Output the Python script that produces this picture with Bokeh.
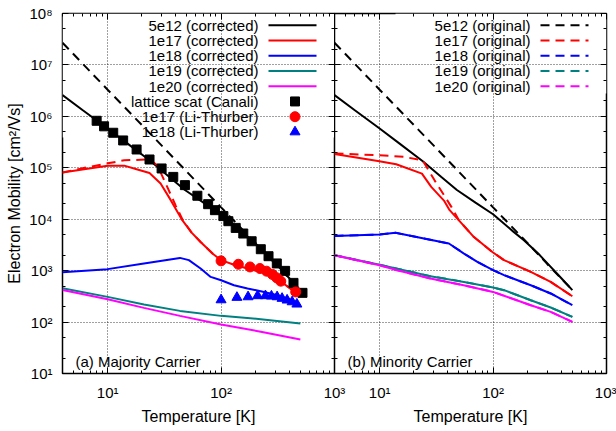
from bokeh.plotting import figure
from bokeh.models import (FixedTicker, CustomJSTickFormatter, LogAxis, Range1d,
                          LinearScale)
from bokeh.layouts import row
from bokeh.core.properties import value
from bokeh.embed import file_html
from bokeh.resources import INLINE

# ---------------- data ----------------
# lattice-limited (5e12) curves, same in both panels
T_5e12_corr = [4, 6, 10, 15, 24, 35, 48, 70, 100, 150, 187, 250, 300, 400, 500]
mu_5e12_corr = [2.6e6, 1.33e6, 5.8e5, 2.95e5, 1.34e5, 6.6e4, 3.7e4, 2.1e4, 1.25e4,
                5.8e3, 3.9e3, 2.15e3, 1.4e3, 7.1e2, 4.17e2]
T_5e12_orig = [4, 10, 30, 100, 200, 300, 500]
mu_5e12_orig = [2.7e7, 3.3e6, 2.7e5, 1.7e4, 3.5e3, 1.35e3, 4.2e2]

# (a) majority carrier
T_a_1e17_corr = [4, 6, 10, 14, 18, 23.4, 29.3, 36, 45.5, 55, 66, 85, 100, 130, 171, 256, 336, 440, 500]
mu_a_1e17_corr = [8.1e4, 9.3e4, 1.09e5, 1.1e5, 9.4e4, 7.9e4, 4.95e4, 2.35e4, 9.6e3, 5.5e3,
                  3.6e3, 2.1e3, 1.6e3, 1.3e3, 1.1e3, 8.8e2, 6.1e2, 4.0e2, 3.4e2]
T_a_1e17_orig = [4, 6, 10, 14, 23.4, 27.4, 33.6, 40, 46, 55, 66, 85, 100, 130, 171, 256, 336, 440, 500]
mu_a_1e17_orig = [8.1e4, 9.8e4, 1.22e5, 1.4e5, 1.45e5, 1.12e5, 4.2e4, 1.8e4, 9.6e3, 5.5e3,
                  3.6e3, 2.1e3, 1.6e3, 1.3e3, 1.1e3, 8.8e2, 6.1e2, 4.0e2, 3.4e2]
T_a_1e18 = [4, 10, 20.9, 43.4, 52, 66, 81, 100, 130, 171, 224, 314, 440, 500]
mu_a_1e18 = [930, 1070, 1380, 1770, 1600, 1100, 755, 650, 521, 450, 398, 333, 250, 213]
T_a_1e19 = [4, 10, 20.9, 43.4, 100, 224, 500]
mu_a_1e19 = [455, 309, 220, 165, 132, 114, 94]
T_a_1e20 = [4, 10, 20.9, 43.4, 100, 224, 500]
mu_a_1e20 = [420, 279, 189, 132, 90, 65, 46]

# measured / reference points
T_canali = [8.0, 9.3, 11.2, 13.7, 18.0, 23.4, 29.9, 37.9, 48.0, 61.8, 76.9, 88.3, 104.8,
            116, 134.6, 157, 186, 224, 262, 310, 367, 435, 522]
mu_canali = [8.2e5, 6.4e5, 4.8e5, 3.4e5, 2.27e5, 1.45e5, 9.7e4, 6.65e4, 4.6e4, 2.86e4,
             1.96e4, 1.5e4, 1.15e4, 9150, 6780, 5270, 3730, 2610, 1910, 1380, 990, 578, 370]
T_lt_1e17 = [100, 142, 180, 220, 252, 284, 310, 336, 455]
mu_lt_1e17 = [1550, 1330, 1180, 1100, 975, 841, 723, 624, 386]
T_lt_1e18 = [100, 138, 173, 210, 246, 278, 312, 345, 382, 423, 466]
mu_lt_1e18 = [270, 301, 309, 324, 324, 319, 309, 288, 267, 247, 223]

# (b) minority carrier
T_b_1e17_corr = [4, 9.65, 14, 23.6, 28.5, 36.9, 41.4, 50, 67.8, 98.6, 125, 215, 322, 500]
mu_b_1e17_corr = [1.85e5, 1.36e5, 1.17e5, 7.7e4, 4.25e4, 2.3e4, 1.5e4, 9.5e3, 4.5e3,
                  2.3e3, 1.6e3, 946, 603, 318]
T_b_1e17_orig = [4, 9.65, 16.3, 23.9, 30.5, 42.9, 50, 67.8, 98.6, 125, 215, 322, 500]
mu_b_1e17_orig = [1.9e5, 1.76e5, 1.63e5, 1.4e5, 5.7e4, 1.74e4, 9.5e3, 4.5e3, 2.3e3,
                  1.6e3, 946, 603, 318]
T_b_1e18 = [4, 10, 13.8, 24.6, 40.8, 55.4, 72.7, 100, 125, 215, 322, 500]
mu_b_1e18 = [4740, 5050, 5430, 4220, 3370, 2150, 1480, 1020, 817, 521, 360, 213]
T_b_1e19 = [4, 10, 14.3, 28, 55.4, 100, 125, 215, 322, 500]
mu_b_1e19 = [2000, 1300, 1090, 780, 604, 470, 417, 266, 192, 126]
T_b_1e20 = [4, 10, 14.3, 28, 55, 100, 215, 322, 500]
mu_b_1e20 = [2000, 1270, 1020, 703, 521, 386, 213, 158, 101]

x_major = [10, 100, 1000]
x_minor = [m * 10 ** e for e in range(0, 3) for m in range(2, 10) if 4 <= m * 10 ** e <= 1000]
y_major = [10 ** e for e in range(1, 9)]
y_minor = [m * 10 ** e for e in range(1, 8) for m in (2, 5)]

# ---------------- styling ----------------
FONT = "Liberation Sans"
FS = "15px"
FS_TITLE = "16px"
FW, FH = 272, 360
OVERLAP = 14
BLACK, RED, BLUE, TEAL, MAGENTA = "#000000", "#ff0000", "#0000ff", "#008080", "#ff00ff"
DASH = "9 6"

FMT = """
const s = {"0":"\u2070","1":"\u00b9","2":"\u00b2","3":"\u00b3","4":"\u2074","5":"\u2075",
           "6":"\u2076","7":"\u2077","8":"\u2078","9":"\u2079","-":"\u207b"};
const e = Math.round(Math.log10(tick));
return "10" + String(e).split("").map(c => s[c]).join("");
"""


def style_axis(ax, is_x, labels):
    ax.ticker = FixedTicker(ticks=x_major if is_x else y_major,
                            minor_ticks=x_minor if is_x else y_minor)
    ax.axis_line_color = None
    ax.major_tick_in = 6
    ax.major_tick_out = 0
    ax.minor_tick_in = 3
    ax.minor_tick_out = 0
    ax.major_tick_line_color = "black"
    ax.minor_tick_line_color = "black"
    if labels:
        ax.formatter = CustomJSTickFormatter(code=FMT)
        ax.major_label_text_font = FONT
        ax.major_label_text_font_size = FS
        ax.major_label_text_color = "black"
        ax.major_label_standoff = 10
    else:
        ax.formatter = CustomJSTickFormatter(code="return '';")
        ax.major_label_text_font_size = "0px"
        ax.major_label_standoff = 0
    ax.axis_label_text_font = FONT
    ax.axis_label_text_font_size = FS_TITLE
    ax.axis_label_text_font_style = "normal"
    ax.axis_label_text_color = "black"


def make_fig(left_border, right_border, ylabels):
    p = figure(x_axis_type="log", y_axis_type="log",
               x_range=Range1d(4, 1000), y_range=Range1d(10, 1e8),
               frame_width=FW, frame_height=FH,
               min_border_left=left_border, min_border_right=right_border,
               min_border_top=13, min_border_bottom=58,
               output_backend="svg", toolbar_location=None)
    p.extra_x_ranges = {"px": Range1d(0, FW)}
    p.extra_y_ranges = {"py": Range1d(0, FH)}
    p.extra_x_scales = {"px": LinearScale()}
    p.extra_y_scales = {"py": LinearScale()}
    p.outline_line_color = "black"
    p.outline_line_width = 1.5
    p.background_fill_color = "white"
    style_axis(p.xaxis[0], True, True)
    style_axis(p.yaxis[0], False, ylabels)
    p.xaxis[0].axis_label = "Temperature [K]"
    p.xaxis[0].axis_label_standoff = 4
    if ylabels:
        p.yaxis[0].axis_label = "Electron Mobility [cm\u00b2/Vs]"
        p.yaxis[0].axis_label_standoff = 3
    top = LogAxis()
    style_axis(top, True, False)
    p.add_layout(top, "above")
    right = LogAxis()
    style_axis(right, False, False)
    p.add_layout(right, "right")
    for g in (p.xgrid[0], p.ygrid[0]):
        g.grid_line_color = "black"
        g.grid_line_dash = "1 2"
        g.grid_line_alpha = 0.75
    p.xgrid[0].ticker = FixedTicker(ticks=x_major)
    p.ygrid[0].ticker = FixedTicker(ticks=y_major)
    return p


def px(**kw):
    kw.update(x_range_name="px", y_range_name="py")
    return kw


def legend(p, entries, box_left, box_bottom):
    p.quad(**px(left=[box_left], right=[FW], bottom=[box_bottom], top=[FH],
                fill_color="white", line_color=None, level="underlay"))
    for i, (label, kind, color, extra) in enumerate(entries):
        yc = FH - 11.7 - 15.25 * i
        p.text(**px(x=[196], y=[yc], text=[label], text_align="right",
                    text_baseline="middle", text_font=value(FONT),
                    text_font_size=FS, text_color="black"))
        if kind == "line":
            p.line(**px(x=[206, 254], y=[yc, yc], line_color=color, line_width=2,
                        line_dash=extra))
        else:
            p.scatter(**px(x=[232.5], y=[yc], marker=kind, size=extra,
                           fill_color=color, line_color=color))


def corner_text(p, txt):
    p.text(**px(x=[13], y=[12], text=[txt], text_align="left",
                text_baseline="alphabetic", text_font=value(FONT),
                text_font_size=FS, text_color="black"))


# ---------------- panel (a) ----------------
pa = make_fig(62, OVERLAP, True)
pa.border_fill_color = "white"
legend(pa, [
    ("5e12 (corrected)", "line", BLACK, "solid"),
    ("1e17 (corrected)", "line", RED, "solid"),
    ("1e18 (corrected)", "line", BLUE, "solid"),
    ("1e19 (corrected)", "line", TEAL, "solid"),
    ("1e20 (corrected)", "line", MAGENTA, "solid"),
    ("lattice scat (Canali)", "square", BLACK, 9),
    ("1e17 (Li-Thurber)", "circle", RED, 10),
    ("1e18 (Li-Thurber)", "triangle", BLUE, 10),
], 0, 236)
pa.line(T_5e12_corr, mu_5e12_corr, line_color=BLACK, line_width=2)
pa.line(T_a_1e17_corr, mu_a_1e17_corr, line_color=RED, line_width=2)
pa.line(T_a_1e18, mu_a_1e18, line_color=BLUE, line_width=2)
pa.line(T_a_1e19, mu_a_1e19, line_color=TEAL, line_width=2)
pa.line(T_a_1e20, mu_a_1e20, line_color=MAGENTA, line_width=2)
pa.line(T_5e12_orig, mu_5e12_orig, line_color=BLACK, line_width=2, line_dash=DASH)
pa.line(T_a_1e17_orig, mu_a_1e17_orig, line_color=RED, line_width=2, line_dash=DASH)
pa.scatter(T_canali, mu_canali, marker="square", size=9, fill_color=BLACK, line_color=BLACK)
pa.scatter(T_lt_1e17, mu_lt_1e17, marker="circle", size=10, fill_color=RED, line_color=RED)
pa.scatter(T_lt_1e18, mu_lt_1e18, marker="triangle", size=10, fill_color=BLUE, line_color=BLUE)
corner_text(pa, "(a) Majority Carrier")

# ---------------- panel (b) ----------------
pb = make_fig(0, 10, False)
pb.border_fill_color = None          # let panel (a)'s boundary tick label show through
pb.margin = (0, 0, 0, -OVERLAP)      # frames meet at the shared edge
legend(pb, [
    ("5e12 (original)", "line", BLACK, DASH),
    ("1e17 (original)", "line", RED, DASH),
    ("1e18 (original)", "line", BLUE, DASH),
    ("1e19 (original)", "line", TEAL, DASH),
    ("1e20 (original)", "line", MAGENTA, DASH),
], 61, 280)
pb.line(T_b_1e18, mu_b_1e18, line_color=BLUE, line_width=2, line_dash=DASH)
pb.line(T_b_1e19, mu_b_1e19, line_color=TEAL, line_width=2, line_dash=DASH)
pb.line(T_b_1e20, mu_b_1e20, line_color=MAGENTA, line_width=2, line_dash=DASH)
pb.line(T_5e12_corr, mu_5e12_corr, line_color=BLACK, line_width=2)
pb.line(T_b_1e17_corr, mu_b_1e17_corr, line_color=RED, line_width=2)
pb.line(T_b_1e18, mu_b_1e18, line_color=BLUE, line_width=2)
pb.line(T_b_1e19, mu_b_1e19, line_color=TEAL, line_width=2)
pb.line(T_b_1e20, mu_b_1e20, line_color=MAGENTA, line_width=2)
pb.line(T_5e12_orig, mu_5e12_orig, line_color=BLACK, line_width=2, line_dash=DASH)
pb.line(T_b_1e17_orig, mu_b_1e17_orig, line_color=RED, line_width=2, line_dash=DASH)
corner_text(pb, "(b) Minority Carrier")

layout = row(pa, pb)
open("out.html", "w").write(file_html(layout, INLINE))
